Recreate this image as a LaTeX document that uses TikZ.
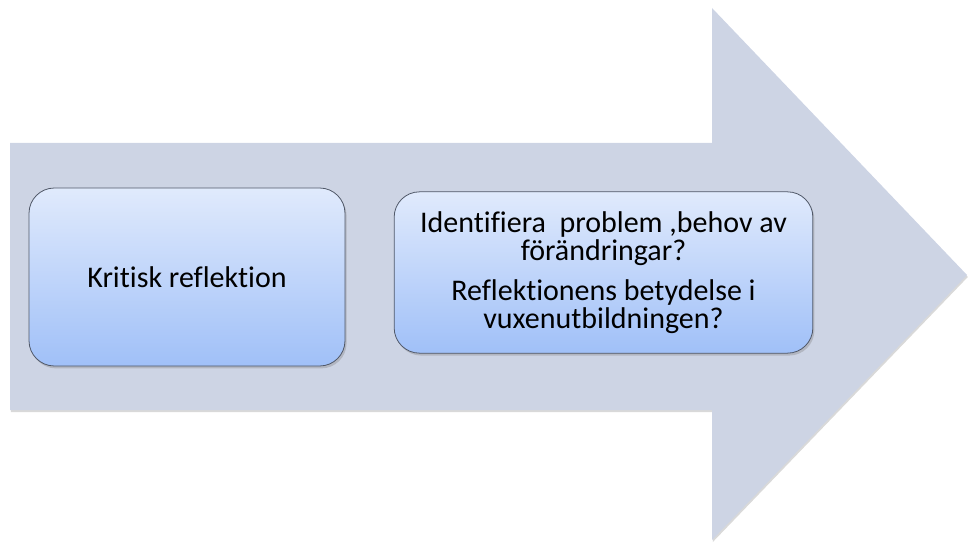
\documentclass[tikz,border=0pt]{standalone}
\usepackage{fontspec}
\setmainfont{Carlito}[Ligatures=NoCommon]
\usetikzlibrary{shadows}

\definecolor{arrowgray}{RGB}{205,212,228}
\definecolor{boxtop}{RGB}{224,234,252}
\definecolor{boxbottom}{RGB}{160,192,248}
\definecolor{boxline}{RGB}{80,88,104}

\tikzset{
  stepbox/.style={draw=boxline, line width=0.6pt, rounded corners=19pt,
    top color=boxtop, bottom color=boxbottom, align=center,
    font=\fontsize{22.5}{20.5}\selectfont, inner sep=0pt,
    drop shadow={shadow xshift=1.2pt, shadow yshift=-1.8pt, opacity=0.35}},
}

\begin{document}
\begin{tikzpicture}[x=0.75pt,y=-0.75pt]
    \useasboundingbox (0,0) rectangle (969,545);
    \coordinate (0) at (10,143);
    \coordinate (1) at (712,143);
    \coordinate (2) at (712,8);
    \coordinate (3) at (967,275);
    \coordinate (4) at (712,540);
    \coordinate (5) at (712,410);
    \coordinate (6) at (10,410);

    \fill[arrowgray, drop shadow={shadow xshift=0.6pt, shadow yshift=-1.5pt, opacity=0.3}]
        (0) -- (1) -- (2) -- (3) -- (4) -- (5) -- (6) -- cycle;

    \node[stepbox, minimum width=237pt, minimum height=133.5pt] (kritisk) at (187,277)
        {Kritisk reflektion};
    \node[stepbox, minimum width=314pt, minimum height=121pt] (fragor) at (603.5,272.5)
        {Identifiera\ \ problem ,behov av\\ förändringar?\\[10pt]
         Reflektionens betydelse i\\ vuxenutbildningen?};
\end{tikzpicture}
\end{document}
